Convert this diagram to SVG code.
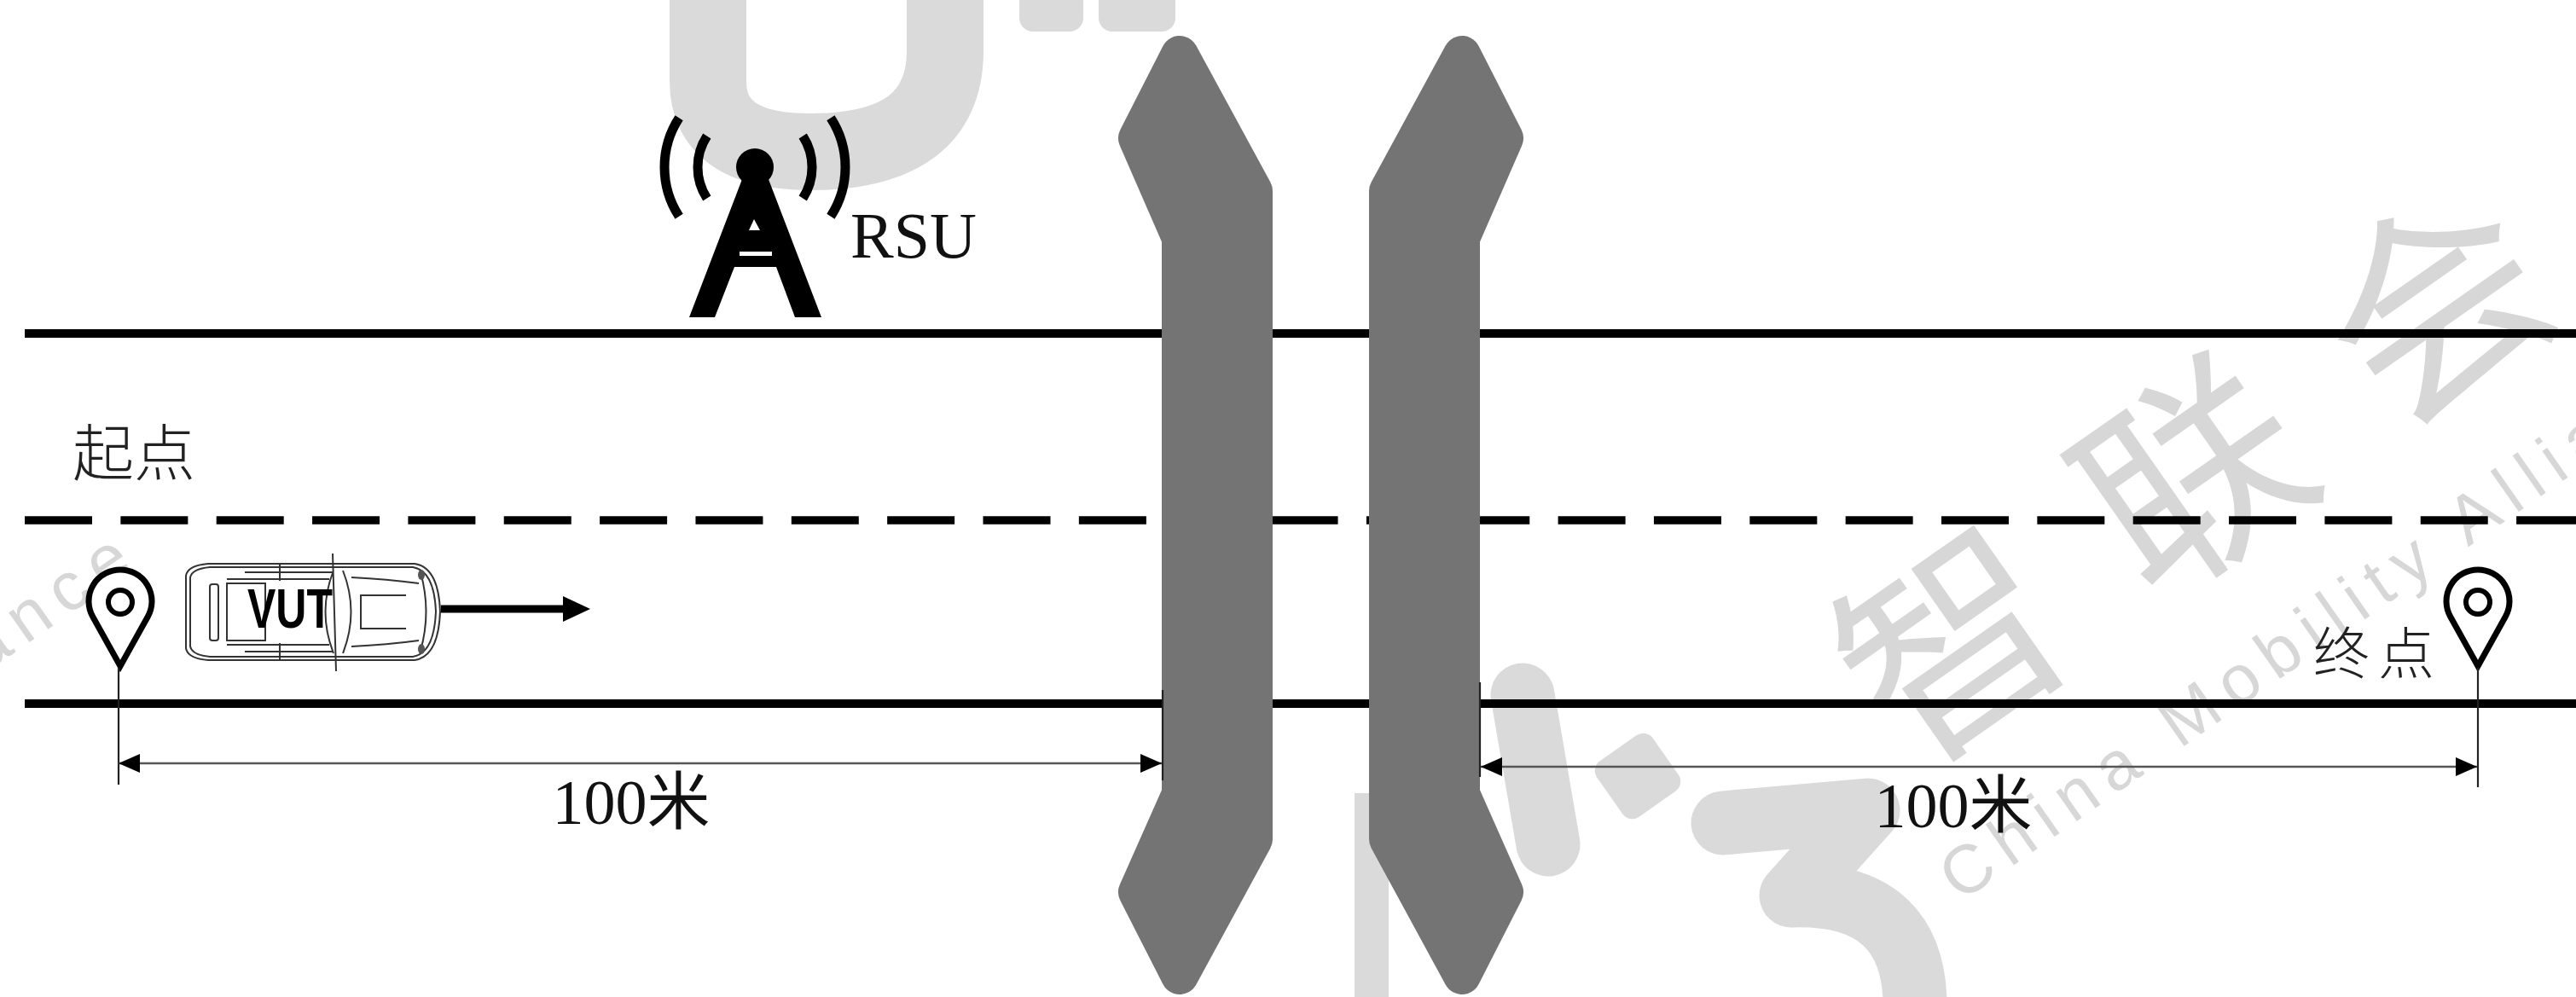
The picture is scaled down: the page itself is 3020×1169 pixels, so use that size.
<svg xmlns="http://www.w3.org/2000/svg" width="3020" height="1169" viewBox="0 0 3020 1169">
<defs>
<style>
.road{stroke:#000;stroke-width:10;fill:none}
.dash{stroke:#000;stroke-width:9.5;stroke-dasharray:79 33.35;fill:none}
.pier{fill:#747474;stroke:#747474;stroke-width:44;stroke-linejoin:round}
.dim{stroke:#555;stroke-width:2.5;fill:none}
.ext{stroke:#222;stroke-width:2.2}
.pin{fill:#fff;stroke:#000;stroke-width:7}
.ring{fill:none;stroke:#000;stroke-width:6}
.lbl{font-family:"Liberation Serif","Noto Sans CJK SC",serif;fill:#111}
.cjk{font-family:"Noto Sans CJK SC",sans-serif;font-weight:300;fill:#222}
.wm{font-family:"Noto Sans CJK SC","Liberation Sans",sans-serif;fill:#d7d7d7}
.wmen{font-family:"Liberation Sans",sans-serif;fill:#d7d7d7}
.logo{fill:none;stroke:#dadada;stroke-linecap:round;stroke-linejoin:round}
.car{fill:none;stroke:#333;stroke-width:2}
.wave{fill:none;stroke:#000;stroke-width:11}
</style>
<marker id="ah" markerUnits="userSpaceOnUse" markerWidth="26" markerHeight="24" refX="25" refY="12" orient="auto-start-reverse" viewBox="0 0 26 24">
<path d="M0,1 L25,12 L0,23 Z" fill="#000"/>
</marker>
</defs>
<rect width="3020" height="1169" fill="#fff"/>

<!-- faint background watermark -->
<g id="watermark">
<path class="logo" stroke-width="90" d="M830,-40 V95 Q830,178 950,178 Q1108,178 1108,60 V-40"/>
<rect x="1195" y="-20" width="75" height="57" rx="16" fill="#dadada"/>
<rect x="1288" y="-20" width="90" height="57" rx="16" fill="#dadada"/>
<path class="logo" stroke-width="75" d="M1785,815 L1815,990"/>
<rect x="1588" y="930" width="40" height="260" fill="#dadada"/>
<rect x="1880" y="870" width="80" height="80" rx="14" fill="#dadada" transform="rotate(-35 1920 910)"/>
<path class="logo" stroke-width="75" d="M2020,965 L2190,950 L2100,1050 Q2250,1045 2245,1190"/>
<g transform="translate(2574,560) rotate(-35)" class="wm" font-size="255" text-anchor="middle">
<text x="-346" y="90">智</text>
<text x="0" y="90">联</text>
<text x="346" y="90">会</text>
</g>
<g transform="translate(2734,719) rotate(-35)">
<text class="wmen" x="0" y="28" font-size="80" text-anchor="middle" textLength="1104">China Mobility Alliance</text>
</g>
<g transform="translate(-310,960) rotate(-35)">
<text class="wmen" x="0" y="28" font-size="80" text-anchor="middle" textLength="1104">China Mobility Alliance</text>
</g>
</g>

<!-- road edges and lane divider -->
<g id="road">
<line class="road" x1="29" y1="391" x2="3020" y2="391"/>
<line class="dash" x1="29" y1="610" x2="3020" y2="610"/>
<line class="road" x1="29" y1="825" x2="3020" y2="825"/>
</g>

<!-- bridge piers -->
<g id="pier-left">
<polygon class="pier" points="1470,224 1383,64 1333,162 1384,279 1384,931 1333,1046 1383,1144 1470,984"/>
</g>
<g id="pier-right">
<polygon class="pier" points="1627,224 1714,64 1764,162 1713,279 1713,931 1764,1046 1714,1144 1627,984"/>
</g>

<!-- roadside unit -->
<g id="rsu">
<path class="wave" d="M796.1,138.3 A106,106 0 0 0 796.1,253.7"/>
<path class="wave" d="M828.8,159.5 A67,67 0 0 0 828.8,232.5"/>
<path class="wave" d="M973.9,138.3 A106,106 0 0 1 973.9,253.7"/>
<path class="wave" d="M941.2,159.5 A67,67 0 0 1 941.2,232.5"/>
<circle cx="885" cy="196" r="22" fill="#000"/>
<polygon points="872,205 899,205 963,372 932,372 910,313 861,313 838,372 808,372" fill="#000"/>
<polygon points="884,257 878,270 891,270" fill="#fff"/>
<rect x="867" y="295" width="38" height="5" fill="#fff"/>
<text class="lbl" x="997" y="302" font-size="76">RSU</text>
</g>

<!-- start marker -->
<g id="start">
<path class="pin" d="M141,781 L173.3,723 A37,37 0 1 0 108.7,723 Z"/>
<circle class="ring" cx="141" cy="706" r="14"/>
<text class="cjk" x="85" y="557" font-size="72">起点</text>
</g>

<!-- end marker -->
<g id="end">
<path class="pin" d="M2905,781 L2937.3,723 A37,37 0 1 0 2872.7,723 Z"/>
<circle class="ring" cx="2905" cy="706" r="14"/>
<text class="cjk" x="2712" y="790" font-size="66" letter-spacing="10">终点</text>
</g>

<!-- vehicle under test, top view -->
<g id="vut" transform="translate(214,657)">
<path class="car" d="M4,18 Q6,6 30,4 L272,4 Q300,8 302,60 Q300,113 272,117 L30,117 Q6,115 4,103 Z"/>
<path class="car" d="M9,20 Q11,10 32,8 L270,8 Q295,12 297,60 Q295,109 270,113 L32,113 Q11,111 9,101 Z"/>
<rect class="car" x="32" y="28" width="10" height="66" rx="3"/>
<rect class="car" x="52" y="27" width="45" height="67"/>
<path class="car" d="M52,22 H172 M52,99 H172 M73,14 H177 M73,107 H177 M114,4 V24 M114,97 V117"/>
<path class="car" d="M177,12 Q158,60 177,109 M188,12 Q207,60 188,109 M176,-8 L180,130"/>
<path class="car" d="M198,20 Q240,22 277,27 M198,101 Q240,99 277,94 M262,41 H209 V80 H262 M279,14 Q292,60 279,106"/>
<ellipse cx="280" cy="17" rx="4" ry="6" fill="#555"/>
<ellipse cx="280" cy="104" rx="4" ry="6" fill="#555"/>
<text x="76" y="79" font-family="Liberation Sans, Arial, sans-serif" font-weight="bold" font-size="64" textLength="100" lengthAdjust="spacingAndGlyphs" fill="#000">VUT</text>
</g>

<!-- connectors: travel direction and distances -->
<g id="connectors">
<line x1="517" y1="714" x2="664" y2="714" stroke="#000" stroke-width="9"/>
<polygon points="660,699 692,714 660,729" fill="#000"/>
<line class="ext" x1="139" y1="783" x2="139" y2="920"/>
<line class="ext" x1="1363" y1="809" x2="1363" y2="915"/>
<line class="dim" x1="139" y1="895" x2="1362" y2="895" marker-start="url(#ah)" marker-end="url(#ah)"/>
<text class="lbl" x="740" y="966" font-size="74" text-anchor="middle">100米</text>
<line class="ext" x1="1735" y1="800" x2="1735" y2="911"/>
<line class="ext" x1="2905" y1="783" x2="2905" y2="923"/>
<line class="dim" x1="1736" y1="899" x2="2904" y2="899" marker-start="url(#ah)" marker-end="url(#ah)"/>
<text class="lbl" x="2290" y="970" font-size="74" text-anchor="middle">100米</text>
</g>
</svg>
